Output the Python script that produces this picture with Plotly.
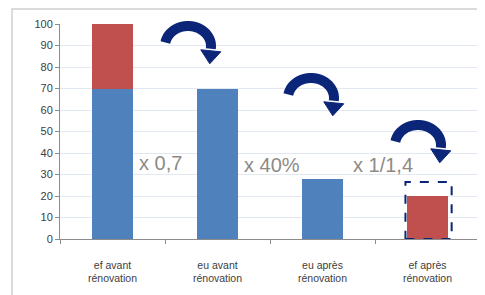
import math
import plotly.graph_objects as go

categories = ["ef avant<br>rénovation", "eu avant<br>rénovation", "eu après<br>rénovation", "ef après<br>rénovation"]
blue_values = [70, 70, 28, 0]
red_values = [30, 0, 0, 20]
factor_labels = ["x 0,7", "x 40%", "x 1/1,4"]
factor_x = [0.46, 1.52, 2.58]
factor_y = [35.3, 34.4, 34.4]

OFF = 8  # page body margin
W, H = 477, 287
ML, MR, MT, MB = 52, 5, 16, 56
PW, PH = W - ML - MR, H - MT - MB


def px(x):
    return (x - OFF - ML) / PW


def py(y):
    return (OFF + H - MB - y) / PH


NAVY = "#0b2579"

fig = go.Figure()
fig.add_bar(x=categories, y=blue_values, marker=dict(color="#4f81bd", line=dict(width=0)))
fig.add_bar(x=categories, y=red_values, marker=dict(color="#c0504d", line=dict(width=0)))

shapes = []
# outer frame
shapes.append(dict(type="path", xref="paper", yref="paper",
                   path=f"M {px(12)},{py(300)} L {px(12)},{py(9)} L {px(490)},{py(9)}",
                   line=dict(color="#cfcfcf", width=1.5), layer="below"))

# curved arrows (decoration)
arrow_centers = [(188, 46), (311, 98), (418, 145)]
for cx, cy in arrow_centers:
    pts = []
    for i in range(31):
        a = math.radians(170 - i * (178 / 30))
        pts.append((cx + 23 * math.cos(a), cy - 20 * math.sin(a)))
    path = "M " + " L ".join(f"{px(x):.5f},{py(y):.5f}" for x, y in pts)
    shapes.append(dict(type="path", xref="paper", yref="paper", path=path,
                       line=dict(color=NAVY, width=10), layer="above"))
    ex, ey = pts[-1]
    head = [(ex - 10, ey + 1), (ex + 10, ey + 3), (ex - 1, ey + 15)]
    hp = "M " + " L ".join(f"{px(x):.5f},{py(y):.5f}" for x, y in head) + " Z"
    shapes.append(dict(type="path", xref="paper", yref="paper", path=hp,
                       fillcolor=NAVY, line=dict(color=NAVY, width=1), layer="above"))

# dashed highlight box around the last bar
shapes.append(dict(type="rect", xref="x", yref="y", x0=2.79, x1=3.23, y0=0, y1=26.5,
                   line=dict(color=NAVY, width=2, dash="dash"), fillcolor="rgba(0,0,0,0)", layer="above"))

annotations = [dict(x=x, y=y, xref="x", yref="y", text=t, showarrow=False,
                    font=dict(size=20, color="#8e8a86", family="Liberation Sans"))
               for t, x, y in zip(factor_labels, factor_x, factor_y)]

fig.update_layout(
    width=W, height=H,
    margin=dict(l=ML, r=MR, t=MT, b=MB),
    barmode="stack", bargap=0.61,
    showlegend=False,
    paper_bgcolor="white", plot_bgcolor="white",
    shapes=shapes, annotations=annotations,
    font=dict(family="Liberation Sans", color="#404040"),
)
fig.update_yaxes(range=[0, 100], dtick=10, showline=True, linecolor="#8c8c8c", linewidth=1,
                 ticks="outside", ticklen=4, tickcolor="#8c8c8c",
                 gridcolor="#e2e8f2", gridwidth=1, zeroline=False, automargin=False,
                 tickfont=dict(size=11, color="#404040"))
fig.update_xaxes(type="category", showline=True, linecolor="#8c8c8c", linewidth=1,
                 ticks="outside", ticklen=4, tickcolor="#8c8c8c", tickson="boundaries",
                 tickfont=dict(size=10.5, color="#404040"), ticklabelstandoff=16, automargin=False,
                 range=[-0.5, 3.5])

fig.write_html("out.html")
